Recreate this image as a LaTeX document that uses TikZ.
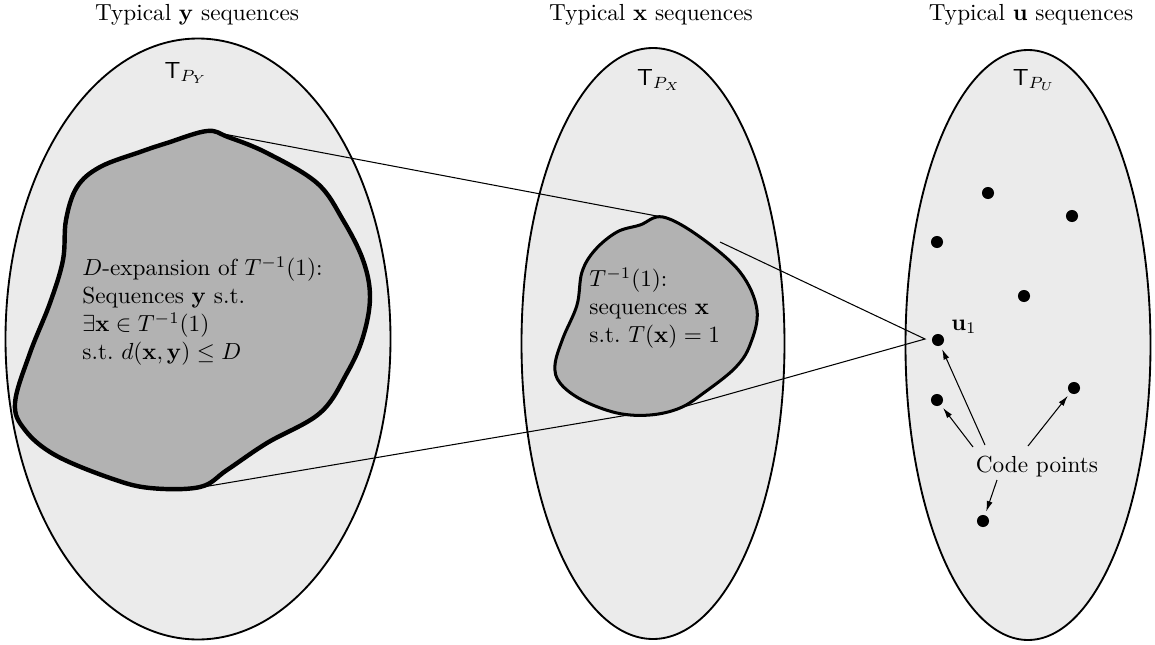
\documentclass[tikz,border=0pt]{standalone}
\usetikzlibrary{arrows.meta,calc}
\definecolor{ellfill}{gray}{0.922}
\definecolor{blobfill}{gray}{0.70}
\begin{document}
\begin{tikzpicture}[x=0.43pt,y=-0.43pt,
  ell/.style={draw=black,line width=0.8pt,fill=ellfill},
  bigblob/.style={draw=black,line width=1.9pt,fill=blobfill},
  smallblob/.style={draw=black,line width=1.3pt,fill=blobfill},
  thinline/.style={draw=black,line width=0.45pt},
  dot/.style={circle,fill=black,inner sep=0pt,minimum size=5.2pt},
  ptr/.style={draw=black,line width=0.45pt,-{Latex[length=4.5pt,width=2.6pt]},shorten >=1.5pt},
  txt/.style={inner sep=0pt,align=left}]
\useasboundingbox (0,0) rectangle (1155,645);

% titles
\node (ty) at (197,15) {Typical $\mathbf{y}$ sequences};
\node (tx) at (651,15) {Typical $\mathbf{x}$ sequences};
\node (tu) at (1031,15) {Typical $\mathbf{u}$ sequences};

% ellipses
\draw[ell] (198,339) ellipse [x radius=192.5, y radius=300.5];
\draw[ell] (653,343.5) ellipse [x radius=131.5, y radius=295.5];
\draw[ell] (1028,345) ellipse [x radius=122.5, y radius=295];

\node (ly) at (186,73) {$\mathsf{T}_{P_Y}$};
\node (lx) at (659,80) {$\mathsf{T}_{P_X}$};
\node (lu) at (1034,80) {$\mathsf{T}_{P_U}$};

% big blob
\draw[bigblob] plot[smooth cycle,tension=0.6] coordinates {
  (207,131) (228,137) (267,153) (317,183) (343,220) (363,260) (370,297)
  (363,337) (347,373) (320,413) (267,443) (227,470) (200,487) (150,488)
  (110,478) (55,455) (25,430) (15,403) (30,353) (50,303) (63,260) (66,220)
  (77,187) (100,167) (140,152) (167,143)};

% small blob
\draw[smallblob] plot[smooth cycle,tension=0.6] coordinates {
  (663,217) (700,237) (740,272) (757,310) (750,345) (735,368) (705,392)
  (680,408) (650,415) (617,413) (582,400) (560,383) (555,365) (563,338)
  (577,305) (582,272) (595,250) (617,232) (640,225)};

% connector coordinates
\coordinate (bt) at (213,132);
\coordinate (bb) at (203,487);
\coordinate (st) at (662,217);
\coordinate (sb) at (628,415);
\coordinate (sr1) at (720,242);
\coordinate (sr2) at (683,407);
\coordinate (conv) at (925,339);

\draw[thinline] (bt) -- (st);
\draw[thinline] (bb) -- (sb);
\draw[thinline] (sr1) -- (conv) -- (sr2);

% texts in blobs
\node[txt,anchor=west] (bigtxt) at (82,311) {$D$-expansion of $T^{-1}(1)$:\\
Sequences $\mathbf{y}$ s.t.\\
$\exists\mathbf{x}\in T^{-1}(1)$\\
s.t.\ $d(\mathbf{x},\mathbf{y})\le D$};
\node[txt,anchor=west] (smalltxt) at (589,308) {$T^{-1}(1)$:\\
sequences $\mathbf{x}$\\
s.t.\ $T(\mathbf{x})=1$};

% code points
\node[dot] (p1) at (988,193) {};
\node[dot] (p2) at (1072,216) {};
\node[dot] (p3) at (937,242) {};
\node[dot] (p4) at (1024,296) {};
\node[dot] (u1) at (938,340) {};
\node[dot] (p6) at (1074,388) {};
\node[dot] (p7) at (937,400) {};
\node[dot] (p8) at (983,521) {};
\node (u1lab) at (964,327) {$\mathbf{u}_1$};

\node (cp) at (1037,467) {Code points};
\coordinate (a1) at (985,445);
\coordinate (a2) at (973,447);
\coordinate (a3) at (1028,446);
\coordinate (a4) at (997,480);
\draw[ptr] (a1) -- (u1);
\draw[ptr] (a2) -- (p7);
\draw[ptr] (a3) -- (p6);
\draw[ptr] (a4) -- (p8);
\end{tikzpicture}
\end{document}
